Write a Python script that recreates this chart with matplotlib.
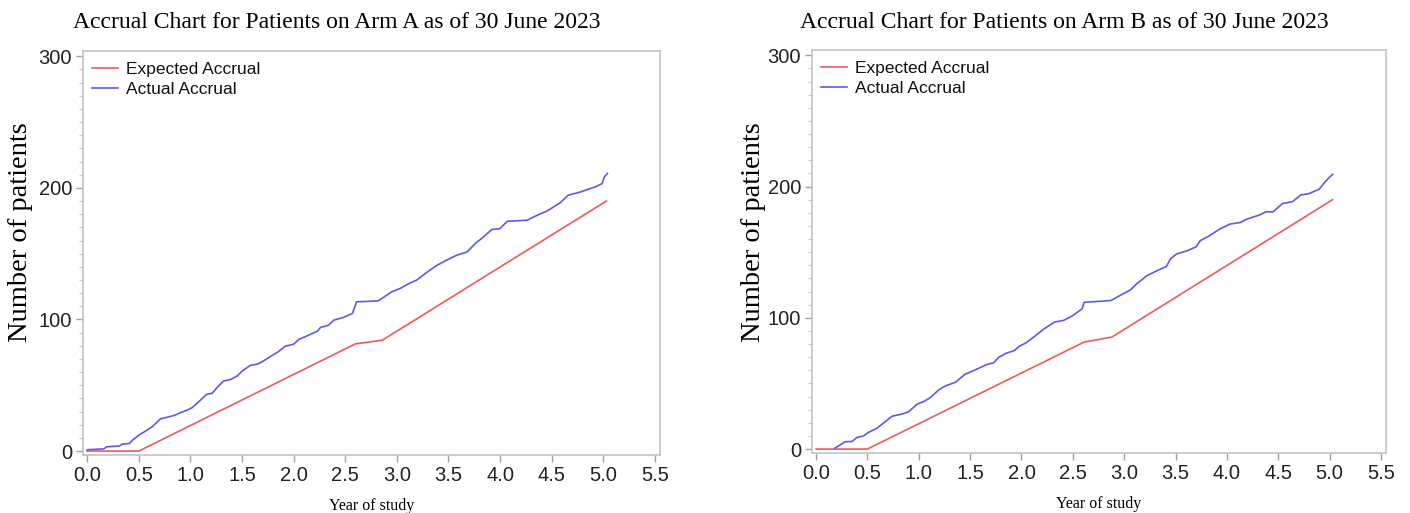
#!/usr/bin/env python3
"""Accrual charts for Arm A and Arm B, as of 30 June 2023."""

import matplotlib

matplotlib.use("Agg")
import matplotlib.pyplot as plt
from matplotlib.ticker import MultipleLocator

# --- data --------------------------------------------------------------
arm_a_expected_years = [0.0, 0.5, 2.60, 2.86, 5.03]
arm_a_expected_patients = [0, 0, 81.5, 84.3, 190]

arm_a_actual_years = [
    0.0, 0.16, 0.19, 0.31, 0.34, 0.41, 0.44, 0.50, 0.58, 0.63, 0.71, 0.77,
    0.85, 0.90, 0.97, 1.02, 1.08, 1.16, 1.21, 1.26, 1.32, 1.39, 1.45, 1.50,
    1.58, 1.65, 1.69, 1.77, 1.85, 1.92, 2.00, 2.05, 2.16, 2.23, 2.26, 2.34,
    2.39, 2.48, 2.57, 2.61, 2.82, 2.95, 3.03, 3.13, 3.19, 3.31, 3.39, 3.48,
    3.58, 3.68, 3.76, 3.82, 3.92, 4.00, 4.07, 4.26, 4.36, 4.45, 4.58, 4.66,
    4.78, 4.92, 4.99, 5.01, 5.04,
]
arm_a_actual_patients = [
    1.0, 1.7, 3.3, 3.8, 5.3, 5.8, 8.4, 12.1, 15.9, 18.5, 24.5, 25.6,
    27.3, 29.1, 31.1, 33.2, 37.4, 43.3, 43.8, 48.4, 53.2, 54.4, 56.9, 60.7,
    65.1, 66.1, 67.6, 71.6, 75.4, 79.7, 81.2, 84.8, 88.6, 91.1, 93.9, 95.7,
    99.5, 101.5, 104.6, 113.4, 114.1, 121.0, 123.5, 127.8, 129.8, 136.9, 141.2, 145.0,
    148.8, 151.3, 157.7, 161.5, 168.3, 169.1, 174.6, 175.4, 179.2, 182.2, 188.5, 194.4,
    196.9, 200.7, 203.3, 208.3, 210.9,
]

arm_b_expected_years = [0.0, 0.5, 2.61, 2.88, 5.03]
arm_b_expected_patients = [0, 0, 81.5, 85.3, 190]

arm_b_actual_years = [
    0.18, 0.28, 0.35, 0.40, 0.46, 0.51, 0.59, 0.67, 0.74, 0.83, 0.90, 0.98,
    1.06, 1.12, 1.19, 1.25, 1.36, 1.45, 1.54, 1.66, 1.73, 1.78, 1.85, 1.93,
    1.98, 2.04, 2.12, 2.22, 2.32, 2.41, 2.49, 2.59, 2.61, 2.87, 2.96, 3.06,
    3.12, 3.22, 3.32, 3.41, 3.45, 3.51, 3.61, 3.70, 3.74, 3.83, 3.93, 4.03,
    4.13, 4.19, 4.32, 4.38, 4.45, 4.54, 4.64, 4.72, 4.80, 4.90, 4.95, 4.99,
    5.03,
]
arm_b_actual_patients = [
    0.5, 5.5, 5.8, 8.9, 9.9, 12.7, 15.7, 20.7, 25.0, 26.6, 28.3, 34.0,
    36.7, 39.7, 44.8, 47.8, 51.0, 57.0, 60.0, 64.3, 65.8, 70.0, 73.0, 75.0,
    78.4, 80.7, 85.3, 91.6, 96.7, 98.0, 101.2, 106.8, 111.8, 113.1, 117.0, 121.2,
    125.8, 132.0, 135.9, 139.0, 144.8, 148.6, 151.0, 154.0, 158.7, 162.5, 167.6, 171.4,
    172.6, 175.0, 178.4, 180.7, 180.7, 187.0, 188.5, 193.6, 194.6, 198.0, 203.0, 206.3,
    209.3,
]

arm_labels = ["A", "B"]
x_ticks = [0.0, 0.5, 1.0, 1.5, 2.0, 2.5, 3.0, 3.5, 4.0, 4.5, 5.0, 5.5]
y_ticks = [0, 100, 200, 300]

SERIF = "Liberation Serif"
SANS = "Liberation Sans"
RED = "#f05a5a"
BLUE = "#5a5af0"
FRAME = "#c4c4c4"


def draw_panel(fig, rect, expected, actual, arm, title_x, ylabel_x):
    ax = fig.add_axes(rect)
    ax.plot(*expected, color=RED, lw=1.2, label="Expected Accrual")
    ax.plot(*actual, color=BLUE, lw=1.2, label="Actual Accrual")

    ax.set_xlim(-0.04, 5.55)
    ax.set_ylim(-3, 304)
    ax.set_xticks(x_ticks)
    ax.set_xticklabels([f"{t:.1f}" for t in x_ticks])
    ax.set_yticks(y_ticks)
    ax.yaxis.set_minor_locator(MultipleLocator(10))

    for side in ax.spines.values():
        side.set_color(FRAME)
        side.set_linewidth(1.2)
    ax.tick_params(which="major", direction="out", length=5, width=1,
                   color="#a0a0a0", labelsize=14.5, labelcolor="#222222", pad=3)
    ax.tick_params(which="minor", direction="out", length=3, width=0.8,
                   color="#c8c8c8")
    for lab in ax.get_xticklabels() + ax.get_yticklabels():
        lab.set_fontfamily(SANS)

    leg = ax.legend(loc="upper left", frameon=False, prop={"family": SANS, "size": 12.5},
                    handlelength=1.5, handletextpad=0.5, labelspacing=0.3,
                    borderaxespad=0.1, bbox_to_anchor=(0.0, 0.995))
    for text in leg.get_texts():
        text.set_color("#111111")

    ax.set_xlabel("Year of study", fontfamily=SERIF, fontsize=11.5, labelpad=9)
    fig.text(title_x, 0.957, f"Accrual Chart for Patients on Arm {arm} as of 30 June 2023",
             ha="center", va="center", fontfamily=SERIF, fontsize=17)
    fig.text(ylabel_x, 0.548, "Number of patients", rotation=90, ha="center",
             va="center", fontfamily=SERIF, fontsize=20.5)
    return ax


fig = plt.figure(figsize=(14.1, 5.13), dpi=100)

draw_panel(fig, [0.0589, 0.113, 0.4092, 0.7876],
           (arm_a_expected_years, arm_a_expected_patients),
           (arm_a_actual_years, arm_a_actual_patients),
           arm_labels[0], 337 / 1410, 21 / 1410)
draw_panel(fig, [0.5759, 0.117, 0.4071, 0.7855],
           (arm_b_expected_years, arm_b_expected_patients),
           (arm_b_actual_years, arm_b_actual_patients),
           arm_labels[1], 1064 / 1410, 753 / 1410)

fig.savefig("out.png", dpi=100)
